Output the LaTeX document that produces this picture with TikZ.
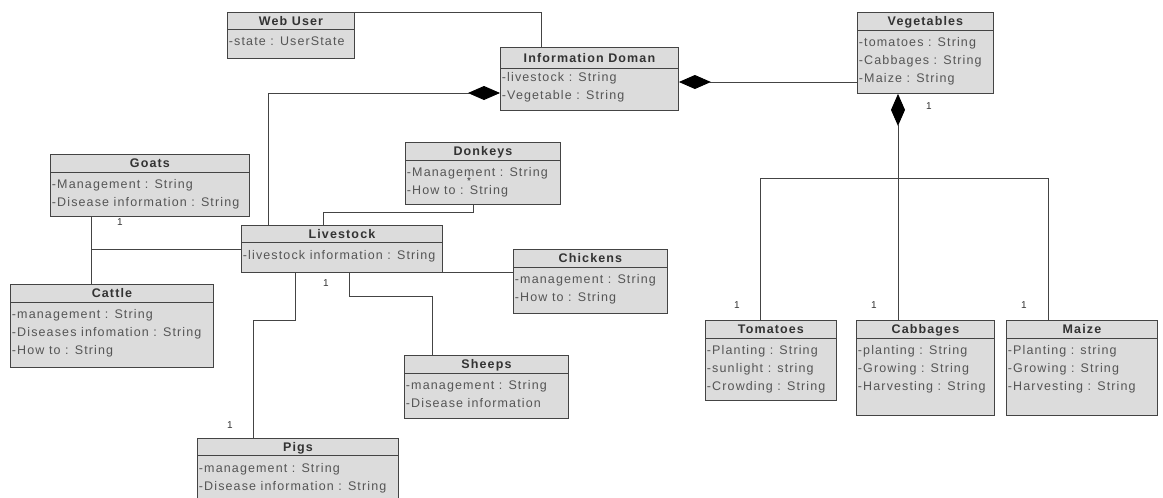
\documentclass[tikz,border=0pt]{standalone}
\usepackage{fontspec}
\setmainfont{Liberation Sans}[LetterSpace=9]
\usetikzlibrary{arrows.meta,positioning}

\definecolor{boxfill}{HTML}{DCDCDC}
\definecolor{edge}{HTML}{444444}
\definecolor{ink}{HTML}{333333}
\definecolor{faint}{HTML}{555555}

\begin{document}
\begin{tikzpicture}[x=1pt,y=-1pt,line width=0.9pt]
  \tikzstyle{classbox}=[draw=edge,fill=boxfill,anchor=north west,inner sep=0pt]
  \tikzstyle{title}=[font=\fontsize{12.5}{14}\selectfont\bfseries,text=ink,
                     inner sep=0pt,text height=8.9pt,text depth=0pt]
  \tikzstyle{attrs}=[font=\fontsize{12.5}{18}\selectfont,text=faint,
                     anchor=north west,align=left,inner sep=0pt]
  \tikzstyle{mult}=[font=\fontsize{10}{12}\selectfont,text=ink,inner sep=0pt]
  \tikzstyle{comp}=[{Diamond[length=32pt,width=14pt,color=black]}-]

  \useasboundingbox (0,0) rectangle (1163,498);

  % classes: name / x / y / width / height / header / title / attributes
  \foreach \name/\x/\y/\w/\h/\hd/\title/\rows in {
      web/227/12/127/46/17/Web User/{-state : UserState},
      info/500/47/178/63/21/Information Doman/{-livestock : String\\-Vegetable : String},
      veg/857/12/136/81/18/Vegetables/{-tomatoes : String\\-Cabbages : String\\-Maize : String},
      goats/50/154/199/62/18/Goats/{-Management : String\\-Disease information : String},
      donkeys/405/142/155/62/18/Donkeys/{-Management : String\\-How to : String},
      livestock/241/225/201/47/17/Livestock/{-livestock information : String},
      chickens/513/249/154/64/18/Chickens/{-management : String\\-How to : String},
      cattle/10/284/203/83/18/Cattle/{-management : String\\-Diseases infomation : String\\-How to : String},
      sheeps/404/355/164/63/18/Sheeps/{-management : String\\-Disease information},
      pigs/197/438/201/70/17/Pigs/{-management : String\\-Disease information : String},
      tomatoes/705/320/131/80/18/Tomatoes/{-Planting : String\\-sunlight : string\\-Crowding : String},
      cabbages/856/320/138/95/18/Cabbages/{-planting : String\\-Growing : String\\-Harvesting : String},
      maize/1006/320/151/95/18/Maize/{-Planting : string\\-Growing : String\\-Harvesting : String}}
  {
    \node[classbox,minimum width=\w pt,minimum height=\h pt] (\name) at (\x,\y) {};
    \draw[edge] ([yshift=-\hd pt]\name.north west) -- ([yshift=-\hd pt]\name.north east);
    \node[title] (\name-t) at ([yshift=-\hd pt/2-0.5pt]\name.north) {\title};
    \node[attrs] (\name-a) at ([xshift=1.5pt,yshift=-24.8pt]\name.north west) {\rows};
  }

  \coordinate (gc) at ([xshift=41pt]goats.south west);

  \begin{scope}[draw=edge]
    \draw (web.north east) -| ([xshift=41pt]info.north west);
    \draw[comp] ([yshift=-46pt]info.north west) -| ([xshift=27pt]livestock.north west);
    \draw[comp] ([yshift=-35pt]info.north east) -- ([yshift=-70pt]veg.north west);
    \draw[comp] ([xshift=41pt]veg.south west) -- ([xshift=42pt]cabbages.north west);
    \draw ([xshift=55pt]tomatoes.north west) -- ++(0,-142) -| ([xshift=42pt]maize.north west);

    \draw (gc) -- ([xshift=81pt]cattle.north west);
    \draw (livestock.west) -- (gc |- livestock.west);
    \draw ([xshift=82pt]livestock.north west) -- ++(0,-13) -| ([xshift=68pt]donkeys.south west);
    \draw (livestock.south east) -- (chickens.west |- livestock.south east);
    \draw ([xshift=108pt]livestock.south west) -- ++(0,24) -| ([xshift=28pt]sheeps.north west);
    \draw ([xshift=54pt]livestock.south west) -- ++(0,48) -| ([xshift=56pt]pigs.north west);
  \end{scope}

  % multiplicities
  \foreach \i/\x/\y/\t in {1/120/222/1, 2/326/283/1, 3/230/425/1, 4/929/106/1,
                           5/737/305/1, 6/874/305/1, 7/1024/305/1, 8/469/181/*}
    \node[mult] (m-\i) at (\x,\y) {\t};
\end{tikzpicture}
\end{document}
